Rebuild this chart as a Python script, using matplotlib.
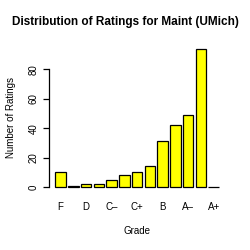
import matplotlib
matplotlib.use("Agg")
import matplotlib.pyplot as plt
import numpy as np

grades = ["F", "D-", "D", "D+", "C-", "C", "C+", "B-", "B", "B+", "A-", "A", "A+"]
counts = [10, 1, 2, 2, 5, 8, 10, 14, 31, 42, 49, 94, 0]
tick_labels = ["F", "D", "C\u2013", "C+", "B", "A\u2013", "A+"]
yticks = [0, 20, 40, 60, 80]

plt.rcParams['font.family'] = ['Liberation Sans', 'DejaVu Sans']

fig = plt.figure(figsize=(2.5, 2.5), dpi=100)
ax = fig.add_axes([0.195, 0.23, 0.707, 0.597])

x = 0.2 + 1.2 * np.arange(len(grades)) + 0.5
ax.bar(x, counts, width=1.0, color="#ffff00", edgecolor="black", linewidth=0.9)

ax.set_xlim(-0.416, 16.216)
ax.set_ylim(-3.76, 97.76)

for s in ["top", "right", "bottom"]:
    ax.spines[s].set_visible(False)
ax.spines["left"].set_bounds(0, 80)
ax.spines["left"].set_linewidth(0.9)

ax.set_yticks(yticks)
ax.set_yticklabels([str(v) for v in yticks], rotation=90, va="center", fontsize=7)
ax.tick_params(axis="y", length=4.5, width=0.9, pad=3)

ax.set_xticks(x[::2])
ax.set_xticklabels(tick_labels, fontsize=7)
ax.tick_params(axis="x", length=0, pad=7)

ax.set_xlabel("Grade", fontsize=7, labelpad=10)
ax.set_ylabel("Number of Ratings", fontsize=7, labelpad=9)
fig.text(0.5, 0.91, "Distribution of Ratings for Maint (UMich)", ha="center", va="center",
         fontsize=8.5, fontweight="bold")

fig.savefig("out.png", dpi=100)
